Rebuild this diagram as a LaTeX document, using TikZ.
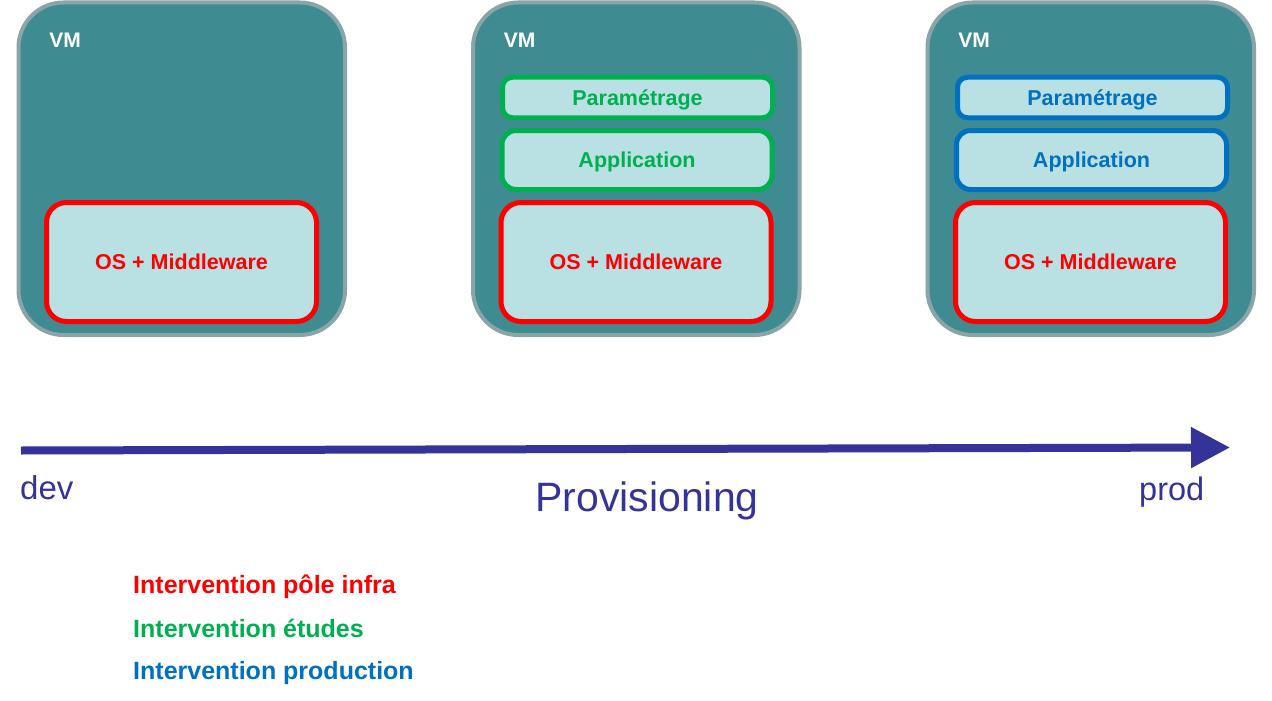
\documentclass[tikz,border=0pt]{standalone}
\usepackage{fontspec}
\setmainfont{Liberation Sans}
\usetikzlibrary{arrows.meta}
\definecolor{vmfill}{HTML}{3E8C91}
\definecolor{vmline}{HTML}{8AA5A8}
\definecolor{boxfill}{HTML}{B9E0E3}
\definecolor{infra}{HTML}{FF0000}
\definecolor{etudes}{HTML}{00B050}
\definecolor{prodc}{HTML}{0070C0}
\definecolor{navy}{HTML}{333399}
\newcommand{\fs}[1]{\fontsize{#1}{#1}\selectfont}
\tikzset{
  vm/.style={draw=vmline, fill=vmfill, line width=4pt, rounded corners=45pt,
    minimum width=326.5pt, minimum height=332.5pt, inner sep=0pt},
  vmlabel/.style={text=white, font=\fs{21}\bfseries, inner sep=0pt},
  layer/.style={fill=boxfill, line width=5pt, minimum width=270pt, inner sep=0pt,
    font=\fs{21.5}\bfseries, text height=15.5pt, text depth=0pt},
  oslayer/.style={layer, draw=infra, text=infra, rounded corners=20pt, minimum height=119pt},
  applayer/.style={layer, rounded corners=14pt, minimum height=59pt},
  paramlayer/.style={layer, rounded corners=10pt, minimum height=40.5pt},
  legend/.style={anchor=base west, inner sep=0pt, font=\fs{25}\bfseries},
  axislabel/.style={text=navy, inner sep=0pt},
}
\begin{document}
\begin{tikzpicture}[x=1pt,y=-1pt]
\useasboundingbox (0,0) rectangle (1272,701);
% VMs
\foreach \k/\xc in {1/181.75, 2/636.25, 3/1090.75}{
  \node[vm] (vm\k) at (\xc,168.75) {};
}
\node[vmlabel] (vml1) at (65,40) {VM};
\node[vmlabel] (vml2) at (519.5,40) {VM};
\node[vmlabel] (vml3) at (974,40) {VM};
% OS layers
\node[oslayer] (os1) at (181.5,262) {OS + Middleware};
\node[oslayer] (os2) at (636,262) {OS + Middleware};
\node[oslayer] (os3) at (1090.5,262) {OS + Middleware};
% Application layers
\node[applayer, draw=etudes, text=etudes] (app2) at (637,160) {Application};
\node[applayer, draw=prodc, text=prodc] (app3) at (1091.5,160) {Application};
% Parametrage layers
\node[paramlayer, draw=etudes, text=etudes] (par2) at (637.5,97.5) {Paramétrage};
\node[paramlayer, draw=prodc, text=prodc] (par3) at (1092.5,97.5) {Paramétrage};
% Axis
\coordinate (axstart) at (21,450.5);
\coordinate (axend) at (1230,447.5);
\draw[navy, line width=8pt, -{Triangle[length=39pt,width=39pt]}] (axstart) -- (axend);
\node[axislabel, anchor=base west, font=\fs{33}] (dev) at (20,499) {dev};
\node[axislabel, anchor=base west, font=\fs{32.5}] (prod) at (1139,500) {prod};
\node[axislabel, anchor=base, font=\fs{41}] (prov) at (647,511) {Provisioning};
% Legend
\node[legend, text=infra] (leg1) at (133,593) {Intervention pôle infra};
\node[legend, text=etudes] (leg2) at (133,637) {Intervention études};
\node[legend, text=prodc] (leg3) at (133,679) {Intervention production};
\end{tikzpicture}
\end{document}
